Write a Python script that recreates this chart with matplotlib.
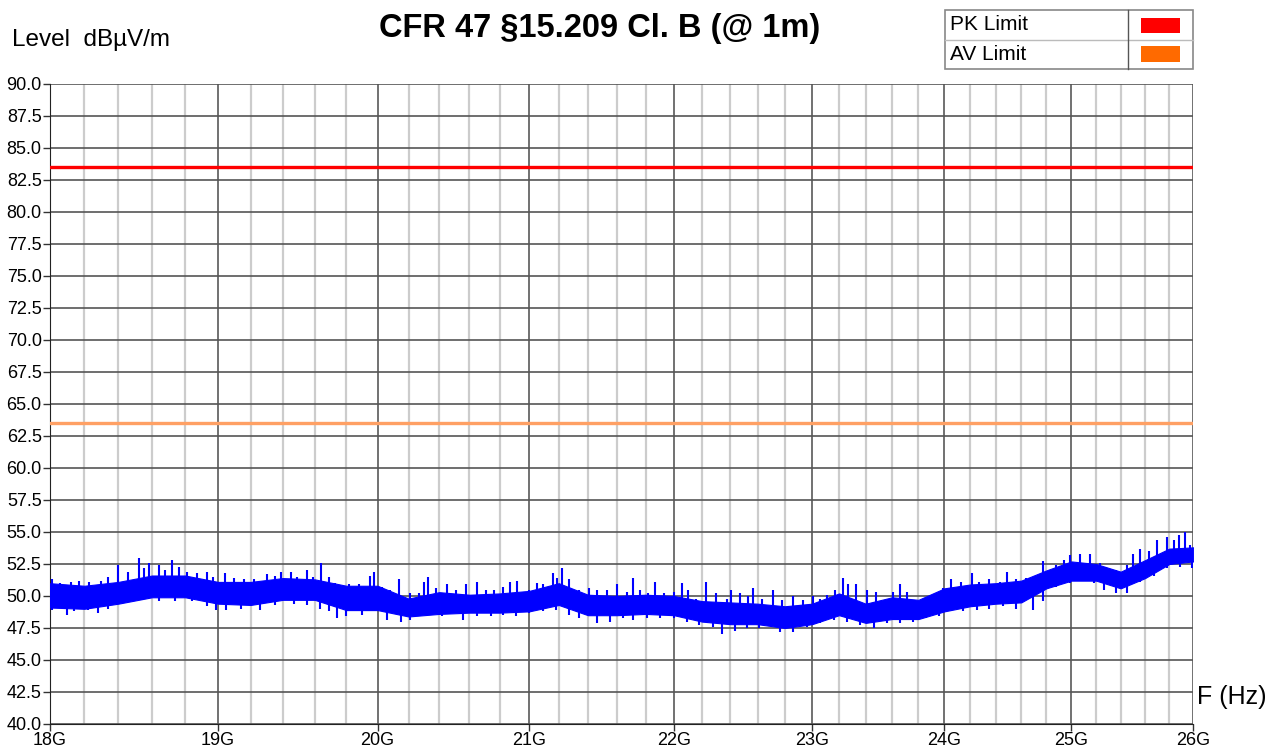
import numpy as np
import matplotlib
matplotlib.use("Agg")
import matplotlib.pyplot as plt
from matplotlib.patches import Rectangle
from matplotlib.ticker import FixedLocator, NullFormatter

plt.rcParams['font.family'] = ['Liberation Sans', 'DejaVu Sans']

# --- measured emission trace: dense core every 200 MHz (GHz / dBuV/m) ---
env_freq_ghz = [18.0, 18.2, 18.4, 18.6, 18.8, 19.0, 19.2, 19.4, 19.6, 19.8,
                20.0, 20.2, 20.4, 20.6, 20.8, 21.0, 21.2, 21.4, 21.6, 21.8,
                22.0, 22.2, 22.4, 22.6, 22.8, 23.0, 23.2, 23.4, 23.6, 23.8,
                24.0, 24.2, 24.4, 24.6, 24.8, 25.0, 25.2, 25.4, 25.6, 25.8, 26.0]
env_low = [49.1, 49.0, 49.4, 49.9, 49.9, 49.4, 49.3, 49.7, 49.7, 48.9,
           48.9, 48.4, 48.6, 48.7, 48.7, 48.8, 49.3, 48.5, 48.5, 48.6,
           48.5, 48.0, 47.8, 47.8, 47.5, 47.8, 48.5, 47.9, 48.2, 48.2,
           48.8, 49.2, 49.4, 49.5, 50.6, 51.2, 51.2, 50.6, 51.4, 52.5, 52.7]
env_high = [51.0, 50.8, 51.1, 51.6, 51.6, 51.1, 51.1, 51.4, 51.3, 50.8,
            50.8, 49.8, 50.3, 50.1, 50.2, 50.4, 51.0, 50.1, 50.0, 50.1,
            50.0, 49.6, 49.5, 49.4, 49.2, 49.4, 50.2, 49.4, 49.9, 49.7,
            50.6, 50.9, 51.0, 51.2, 52.0, 52.7, 52.5, 51.9, 52.8, 53.7, 53.8]

# noise maxima
up_freq_ghz = [18.01, 18.06, 18.12, 18.17, 18.23, 18.30, 18.34, 18.40, 18.46, 18.52,
               18.55, 18.58, 18.64, 18.68, 18.72, 18.76, 18.81, 18.87, 18.93, 18.97,
               19.04, 19.10, 19.16, 19.22, 19.30, 19.35, 19.39, 19.45, 19.49, 19.55,
               19.59, 19.64, 19.69, 19.73, 19.75, 19.82, 19.88, 19.92, 19.95, 19.98,
               20.03, 20.08, 20.14, 20.21, 20.27, 20.30, 20.33, 20.38, 20.45, 20.51,
               20.58, 20.65, 20.71, 20.76, 20.82, 20.87, 20.92, 21.00, 21.05, 21.09,
               21.16, 21.19, 21.22, 21.27, 21.34, 21.41, 21.46, 21.53, 21.60, 21.67,
               21.71, 21.76, 21.82, 21.87, 21.93, 22.00, 22.06, 22.10, 22.16, 22.23,
               22.30, 22.38, 22.41, 22.47, 22.53, 22.57, 22.63, 22.71, 22.78, 22.86,
               22.93, 23.01, 23.06, 23.11, 23.17, 23.23, 23.27, 23.33, 23.41, 23.48,
               23.56, 23.61, 23.66, 23.71, 23.76, 23.84, 23.92, 23.99, 24.05, 24.13,
               24.21, 24.27, 24.35, 24.43, 24.49, 24.56, 24.64, 24.69, 24.77, 24.83,
               24.88, 24.94, 24.99, 25.07, 25.15, 25.23, 25.28, 25.36, 25.45, 25.50,
               25.56, 25.63, 25.70, 25.78, 25.84, 25.88, 25.93, 25.97]
up_level = [51.3, 51.0, 51.1, 51.2, 51.1, 51.2, 51.5, 52.4, 51.9, 53.0,
            52.2, 52.6, 52.4, 52.0, 52.8, 52.3, 51.9, 51.8, 51.9, 51.5,
            51.8, 51.4, 51.3, 51.3, 51.7, 51.6, 51.9, 51.9, 51.5, 52.0,
            51.5, 52.6, 51.5, 51.0, 50.7, 50.9, 50.9, 50.7, 51.6, 51.9,
            50.7, 50.5, 51.3, 50.2, 50.2, 51.1, 51.5, 50.6, 50.9, 50.5,
            50.9, 51.1, 50.5, 50.5, 50.7, 51.1, 51.2, 50.5, 51.0, 50.9,
            51.8, 51.4, 52.2, 51.3, 50.5, 50.6, 50.5, 50.5, 50.9, 50.3,
            51.4, 50.5, 50.2, 51.1, 50.2, 50.3, 51.0, 50.5, 49.8, 51.1,
            50.2, 49.8, 50.5, 50.2, 50.0, 50.6, 49.8, 50.5, 49.7, 50.0,
            49.7, 50.0, 49.8, 50.1, 50.5, 51.4, 50.9, 50.9, 50.5, 50.3,
            49.7, 50.3, 50.9, 50.3, 49.7, 49.8, 50.1, 50.6, 51.3, 51.1,
            51.8, 51.1, 51.3, 51.1, 51.9, 51.3, 51.4, 51.1, 52.7, 52.0,
            52.4, 52.8, 53.2, 53.3, 53.3, 52.6, 52.3, 52.0, 52.4, 53.3,
            53.7, 53.5, 54.4, 54.6, 54.4, 54.8, 55.0, 54.0]

# noise minima
dn_freq_ghz = [18.01, 18.10, 18.14, 18.22, 18.28, 18.34, 18.46, 18.54, 18.64, 18.74,
               18.84, 18.93, 18.99, 19.05, 19.14, 19.26, 19.35, 19.47, 19.55, 19.63,
               19.69, 19.74, 19.80, 19.90, 19.98, 20.06, 20.15, 20.21, 20.27, 20.34,
               20.42, 20.56, 20.65, 20.74, 20.82, 20.91, 21.00, 21.09, 21.18, 21.27,
               21.34, 21.46, 21.55, 21.64, 21.71, 21.81, 21.90, 22.00, 22.09, 22.18,
               22.28, 22.34, 22.44, 22.52, 22.61, 22.76, 22.86, 22.96, 23.06, 23.16,
               23.26, 23.36, 23.46, 23.56, 23.66, 23.76, 23.86, 23.96, 24.04, 24.14,
               24.25, 24.35, 24.46, 24.56, 24.69, 24.77, 24.88, 24.99, 25.07, 25.18,
               25.26, 25.36, 25.45, 25.56, 25.67, 25.78, 25.89, 25.99]
dn_level = [48.9, 48.5, 48.8, 48.9, 48.7, 49.0, 49.6, 49.7, 49.6, 49.6,
            49.6, 49.2, 48.9, 48.9, 49.0, 48.9, 49.3, 49.4, 49.3, 49.0,
            48.8, 48.3, 48.4, 48.5, 48.9, 48.1, 48.0, 48.1, 48.4, 48.5,
            48.4, 48.1, 48.4, 48.4, 48.5, 48.4, 48.7, 48.8, 48.9, 48.5,
            48.3, 47.9, 48.0, 48.3, 48.1, 48.3, 48.3, 48.3, 48.0, 47.7,
            47.6, 47.0, 47.3, 47.5, 47.5, 47.2, 47.2, 47.6, 47.9, 48.1,
            48.0, 47.7, 47.5, 47.9, 47.9, 48.0, 48.3, 48.4, 48.9, 48.8,
            48.9, 49.0, 49.2, 49.0, 48.9, 49.6, 50.7, 51.0, 51.3, 51.0,
            50.5, 50.2, 50.2, 51.1, 51.6, 52.2, 52.3, 52.2]

# limit lines
pk_limit = 83.5
av_limit = 63.5

y_ticks = np.arange(40.0, 90.1, 2.5)
x_major_ghz = [18, 19, 20, 21, 22, 23, 24, 25, 26]
x_minor_ghz = [18 + 0.2 * i for i in range(41)]

W, H = 1278, 753
fig = plt.figure(figsize=(W / 100, H / 100), dpi=100)
fig.patch.set_facecolor('white')


def fx(px):
    return px / W


def fy(py):
    return 1 - py / H


ax = fig.add_axes([fx(50), fy(724), fx(1193.3) - fx(50), fy(84) - fy(724)])

ax.set_xscale('log')
ax.set_xlim(18e9, 26e9)
ax.set_ylim(40, 90)

# grid
for f in x_minor_ghz:
    if abs(f - round(f)) > 1e-6:
        ax.axvline(f * 1e9, color='#cccccc', lw=1.6, zorder=0)
for f in x_major_ghz:
    ax.axvline(f * 1e9, color='#666666', lw=1.3, zorder=0)
for yv in y_ticks:
    ax.axhline(yv, color='#555555', lw=1.2, zorder=0)

# limits
ax.axhline(pk_limit, color='#ff0000', lw=2.4, zorder=3)
ax.axhline(av_limit, color='#ffa064', lw=2.4, zorder=3)

# trace: dense core plus the noise extremes as spikes
blue = '#0000ff'
fq = np.array(env_freq_ghz) * 1e9
ax.fill_between(fq, env_low, env_high, color=blue, lw=0.8, zorder=4)

uf = np.array(up_freq_ghz) * 1e9
df = np.array(dn_freq_ghz) * 1e9
mid_u = (np.interp(uf, fq, env_low) + np.interp(uf, fq, env_high)) / 2
mid_d = (np.interp(df, fq, env_low) + np.interp(df, fq, env_high)) / 2
ax.vlines(uf, mid_u, up_level, color=blue, lw=1.5, zorder=4)
ax.vlines(df, dn_level, mid_d, color=blue, lw=1.5, zorder=4)

# axes styling
ax.xaxis.set_major_locator(FixedLocator([f * 1e9 for f in x_major_ghz]))
ax.set_xticklabels([f"{f}G" for f in x_major_ghz])
ax.xaxis.set_minor_locator(FixedLocator([]))
ax.xaxis.set_minor_formatter(NullFormatter())
ax.set_yticks(y_ticks)
ax.set_yticklabels([f"{v:.1f}" for v in y_ticks])
ax.tick_params(axis='both', labelsize=13, length=5, width=1, color='#333333',
               pad=1)
for s in ['top', 'right']:
    ax.spines[s].set_visible(False)
ax.spines['left'].set_color('#222222')
ax.spines['bottom'].set_color('#222222')

# texts
fig.text(fx(600), fy(28), "CFR 47 §15.209 Cl. B (@ 1m)", ha='center', va='center',
         fontsize=23.5, fontweight='bold')
fig.text(fx(12), fy(40), "Level  dBµV/m", ha='left', va='center', fontsize=17.5)
fig.text(fx(1197), fy(697), "F (Hz)", ha='left', va='center', fontsize=18)

# legend table
lx0, lx1, lxm = 945, 1193, 1128
ly0, ly1, lym = 10, 69, 39.5
fig.add_artist(Rectangle((fx(lx0), fy(ly1)), fx(lx1) - fx(lx0), fy(ly0) - fy(ly1),
                         transform=fig.transFigure, fill=False, ec='#888888', lw=1.2))
fig.add_artist(plt.Line2D([fx(lx0), fx(lx1)], [fy(lym), fy(lym)],
                          transform=fig.transFigure, color='#bbbbbb', lw=1))
fig.add_artist(plt.Line2D([fx(lxm), fx(lxm)], [fy(ly0), fy(ly1)],
                          transform=fig.transFigure, color='#555555', lw=1))
for row, (label, col) in enumerate([("PK Limit", '#ff0000'), ("AV Limit", '#ff6a00')]):
    yc = 25 + row * 29
    fig.text(fx(950), fy(yc), label, ha='left', va='center', fontsize=15)
    fig.add_artist(Rectangle((fx(1141), fy(yc + 7.5)), fx(1180) - fx(1141),
                             fy(yc - 7.5) - fy(yc + 7.5), transform=fig.transFigure,
                             color=col, lw=0))

fig.savefig("out.png", dpi=100)
